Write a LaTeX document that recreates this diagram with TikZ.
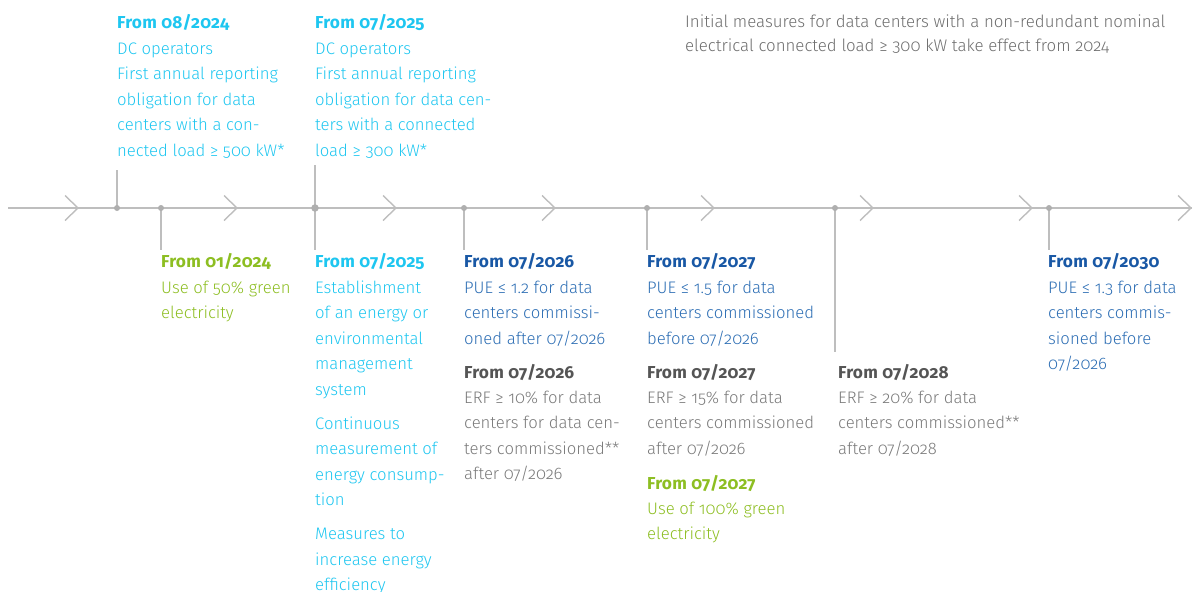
\documentclass[tikz,border=0pt]{standalone}
\usepackage{fontspec}
\setmainfont{Fira Sans Light}[BoldFont={Fira Sans Bold},Numbers=OldStyle]
\definecolor{cyanT}{RGB}{30,198,240}
\definecolor{greenT}{RGB}{141,190,34}
\definecolor{blueH}{RGB}{25,88,165}
\definecolor{blueB}{RGB}{45,110,180}
\definecolor{grayH}{RGB}{85,85,85}
\definecolor{grayB}{RGB}{122,122,122}
\definecolor{grayN}{RGB}{110,110,110}
\definecolor{lineG}{RGB}{190,190,190}
\definecolor{dotG}{RGB}{175,175,175}
\begin{document}
\begin{tikzpicture}[x=1pt,y=-1pt,
  txt/.style={anchor=north west,inner sep=0pt,align=left,font=\fontsize{16.7}{25.5}\selectfont},
  hd/.style={txt,font=\fontsize{17.3}{25.5}\selectfont\bfseries\addfontfeature{LetterSpace=1.5}},
  note/.style={anchor=north west,inner sep=0pt,align=left,font=\fontsize{16.85}{24.5}\selectfont,text=grayN},
  dot/.style={circle,fill=dotG,inner sep=0pt,minimum size=6pt},
  bigdot/.style={dot,minimum size=7.5pt},
  tl/.style={draw=lineG,line width=1.4pt},
  tick/.style={draw=lineG,line width=1.3pt},
  ]
\useasboundingbox (0,0) rectangle (1195,592);
% timeline
\coordinate (start) at (8,208);
\coordinate (end) at (1192,208);
\draw[tl] (start) -- (end);
\foreach \i in {0,...,7}{
  \draw[tl] (65+159*\i,195.5) -- (78+159*\i,208) -- (65+159*\i,220.5);
}
% tick positions
\coordinate (p1) at (117,208); \coordinate (q1) at (117,170);
\coordinate (p2) at (161,208); \coordinate (q2) at (161,250);
\coordinate (p3) at (315,208); \coordinate (q3a) at (315,165); \coordinate (q3b) at (315,250);
\coordinate (p4) at (464,208); \coordinate (q4) at (464,250);
\coordinate (p5) at (647,208); \coordinate (q5) at (647,250);
\coordinate (p6) at (835,208); \coordinate (q6) at (835,352);
\coordinate (p7) at (1049,208); \coordinate (q7) at (1049,250);
\draw[tick] (p1) -- (q1);
\draw[tick] (p2) -- (q2);
\draw[tick] (q3a) -- (q3b);
\draw[tick] (p4) -- (q4);
\draw[tick] (p5) -- (q5);
\draw[tick] (p6) -- (q6);
\draw[tick] (p7) -- (q7);
\node[dot] (d1) at (p1) {};
\node[dot] (d2) at (p2) {};
\node[bigdot] (d3) at (p3) {};
\node[dot] (d4) at (p4) {};
\node[dot] (d5) at (p5) {};
\node[dot] (d6) at (p6) {};
\node[dot] (d7) at (p7) {};
% top texts
\node[hd,text=cyanT] (h1) at (117,10.15) {\strut From 08/2024};
\node[txt,text=cyanT] (b1) at (117,36.15) {\strut DC operators\\First annual reporting\\obligation for data\\centers with a con-\\nected load ≥ 500 kW*};
\node[hd,text=cyanT] (h2) at (315,10.15) {\strut From 07/2025};
\node[txt,text=cyanT] (b2) at (315,36.15) {\strut DC operators\\First annual reporting\\obligation for data cen-\\ters with a connected\\load ≥ 300 kW*};
\node[note] (n1) at (685,9.85) {\strut Initial measures for data centers with a non-redundant nominal\\electrical connected load ≥ 300 kW take effect from 2024};
% bottom texts
\node[hd,text=greenT] (h3) at (161,249.15) {\strut From 01/2024};
\node[txt,text=greenT] (b3) at (161,275.15) {\strut Use of 50\% green\\electricity};
\node[hd,text=cyanT] (h4) at (315,249.15) {\strut From 07/2025};
\node[txt,text=cyanT] (b4) at (315,275.15) {\strut Establishment\\of an energy or\\environmental\\management\\system\\[8.5pt]Continuous\\measurement of\\energy consump-\\tion\\[8.5pt]Measures to\\increase energy\\efficiency};
\node[hd,text=blueH] (h5) at (464,249.15) {\strut From 07/2026};
\node[txt,text=blueB] (b5) at (464,275.15) {\strut PUE ≤ 1.2 for data\\centers commissi-\\oned after 07/2026};
\node[hd,text=grayH] (h6) at (464,360.15) {\strut From 07/2026};
\node[txt,text=grayB] (b6) at (464,385.15) {\strut ERF ≥ 10\% for data\\centers for data cen-\\ters commissioned**\\after 07/2026};
\node[hd,text=blueH] (h7) at (647,249.15) {\strut From 07/2027};
\node[txt,text=blueB] (b7) at (647,275.15) {\strut PUE ≤ 1.5 for data\\centers commissioned\\before 07/2026};
\node[hd,text=grayH] (h8) at (647,360.15) {\strut From 07/2027};
\node[txt,text=grayB] (b8) at (647,385.15) {\strut ERF ≥ 15\% for data\\centers commissioned\\after 07/2026};
\node[hd,text=greenT] (h9) at (647,471.15) {\strut From 07/2027};
\node[txt,text=greenT] (b9) at (647,496.15) {\strut Use of 100\% green\\electricity};
\node[hd,text=grayH] (h10) at (838,360.15) {\strut From 07/2028};
\node[txt,text=grayB] (b10) at (838,385.15) {\strut ERF ≥ 20\% for data\\centers commissioned**\\after 07/2028};
\node[hd,text=blueH] (h11) at (1048,249.15) {\strut From 07/2030};
\node[txt,text=blueB] (b11) at (1048,275.15) {\strut PUE ≤ 1.3 for data\\centers commis-\\sioned before\\07/2026};
\end{tikzpicture}
\end{document}
